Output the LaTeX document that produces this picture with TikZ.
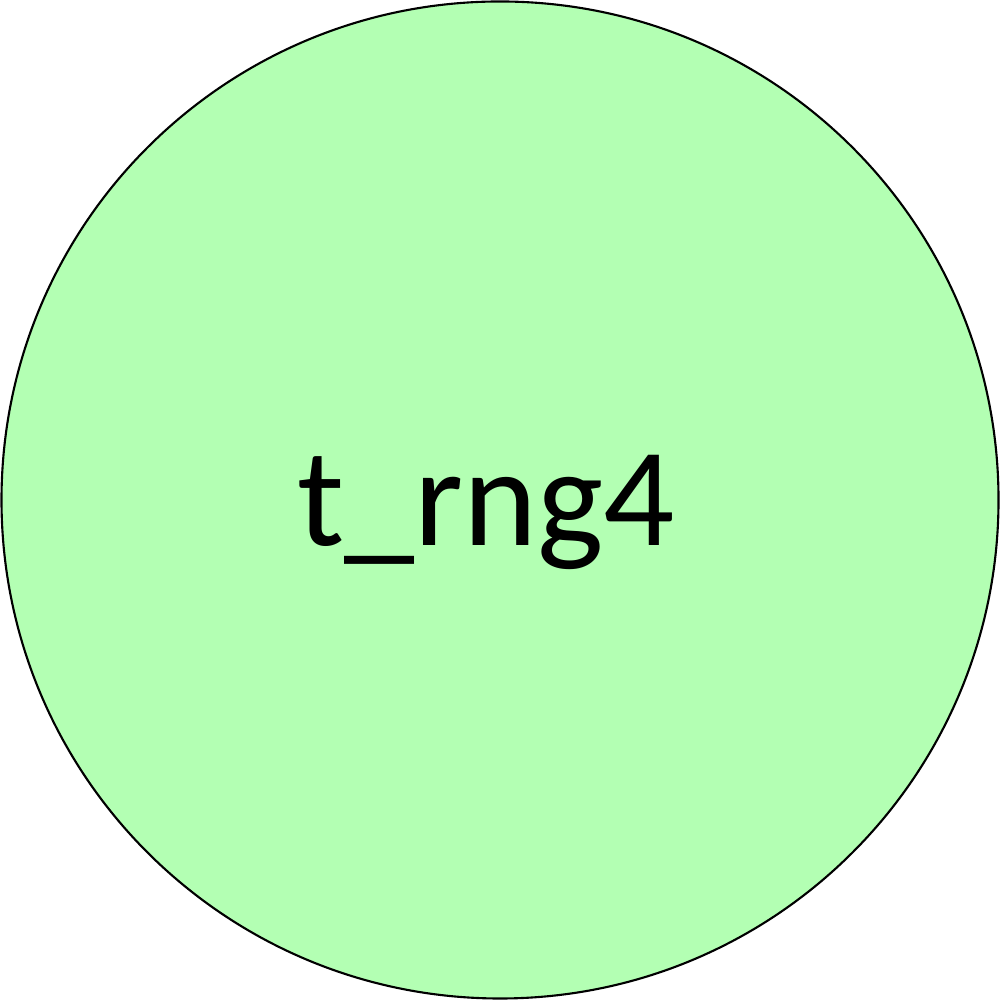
\documentclass[tikz,border=0pt]{standalone}
\usepackage{fontspec}
\setmainfont{Carlito}
\definecolor{rnggreen}{HTML}{B3FFB3}
\tikzset{
  statecircle/.style={circle, draw=black, line width=0.6pt, fill=rnggreen, minimum size=9.97cm, inner sep=0pt},
  statelabel/.style={font=\fontsize{40}{48}\selectfont, text=black}
}
\begin{document}
\begin{tikzpicture}
  \useasboundingbox (0,0) rectangle (10,10);
  \node[statecircle] (trng) at (5,5) {};
  \node[statelabel] (trnglabel) at (4.86,4.88) {t\_rng4};
\end{tikzpicture}
\end{document}
